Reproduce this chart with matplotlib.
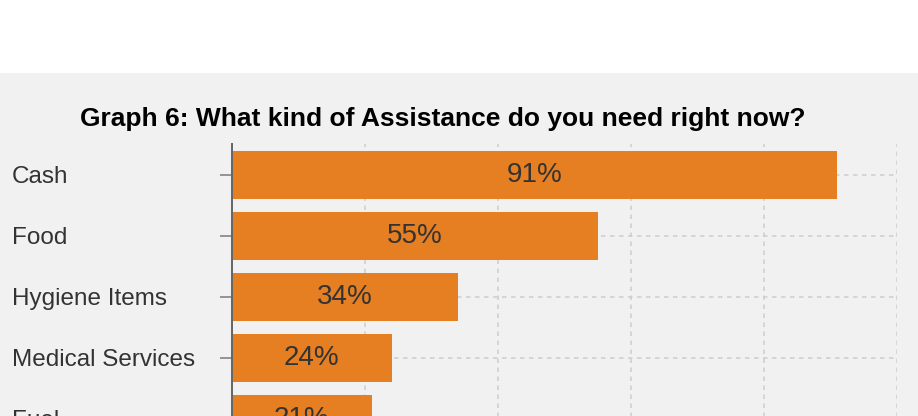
import matplotlib
matplotlib.use("Agg")
import matplotlib.pyplot as plt
from matplotlib.patches import Rectangle

categories = ["Cash", "Food", "Hygiene Items", "Medical Services", "Fuel"]
values = [91, 55, 34, 24, 21]
x_ticks = [0, 20, 40, 60, 80, 100]
title = "Graph 6: What kind of Assistance do you need right now?"

W, H = 918, 416
PT = 72 / 100  # points per pixel
fig = plt.figure(figsize=(W / 100, H / 100), dpi=100)
fig.patch.set_facecolor("white")
bg = "#f1f1f1"
fig.patches.append(Rectangle((0, 0), 1, 1 - 73 / H, transform=fig.transFigure,
                             facecolor=bg, edgecolor="none", zorder=-10))

plt.rcParams['font.family'] = ['Liberation Sans', 'DejaVu Sans']

left, right = 232 / W, 897 / W
top = 1 - 144 / H
row = 61
n = len(categories)
height_px = row * (n - 0.5) + 31
bottom = top - height_px / H
ax = fig.add_axes([left, bottom, right - left, top - bottom])
ax.set_facecolor("none")

y = list(range(n))
bars = ax.barh(y, values, height=0.8, color="#e67e22", zorder=3)
ax.set_xlim(0, 100)
ax.set_ylim(n - 0.5, -0.508)
ax.set_xticks(x_ticks)
ax.set_yticks(y)
ax.set_yticklabels(categories, fontsize=17.5, color="#333333", ha="left")
ax.tick_params(axis="y", length=12 * PT, width=1.5 * PT, color="#777777",
               pad=(232 - 12 - 12) * PT)
ax.tick_params(axis="x", length=0, labelbottom=False)
ax.grid(True, linestyle=(0, (3, 3)), color="#cccccc", linewidth=1.5 * PT, zorder=0)
ax.set_axisbelow(True)
for s in ["top", "right", "bottom"]:
    ax.spines[s].set_visible(False)
ax.spines["left"].set_color("#666666")
ax.spines["left"].set_linewidth(2 * PT)
ax.spines["left"].set_zorder(4)

for b, v in zip(bars, values):
    ax.text(v / 2, b.get_y() + b.get_height() / 2, f"{v}%", ha="center", va="center",
            fontsize=20, color="#333333", zorder=5, clip_on=True)

fig.text(443 / W, 1 - 126 / H, title, ha="center", va="baseline", fontsize=19,
         fontweight="bold", color="black")

fig.savefig("out.png", dpi=100, facecolor=fig.get_facecolor())
